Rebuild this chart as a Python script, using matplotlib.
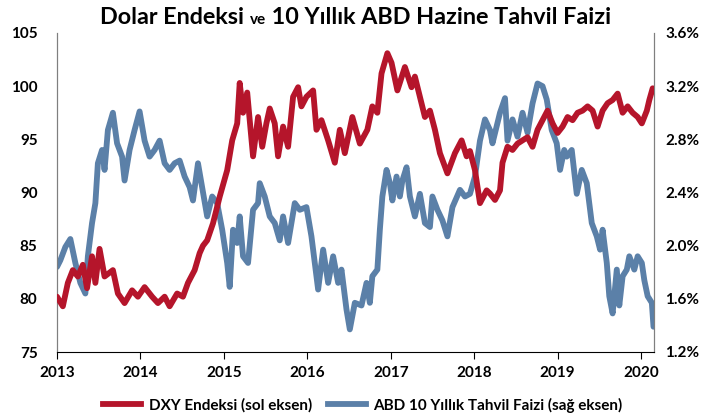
import numpy as np
import matplotlib as mpl
mpl.use('Agg')
import matplotlib.pyplot as plt
from matplotlib.lines import Line2D

mpl.rc('font', family=['Lato', 'DejaVu Sans'], weight='bold')

# DXY index (left axis), decimal year / index level
dxy_t = [2013.00, 2013.07, 2013.13, 2013.19, 2013.25, 2013.31, 2013.36, 2013.42,
         2013.46, 2013.51, 2013.57, 2013.67, 2013.73, 2013.81, 2013.90, 2013.97,
         2014.05, 2014.14, 2014.21, 2014.29, 2014.35, 2014.44, 2014.51, 2014.57,
         2014.65, 2014.71, 2014.75, 2014.80, 2014.87, 2014.95, 2015.04, 2015.10,
         2015.16, 2015.19, 2015.23, 2015.28, 2015.31, 2015.35, 2015.41, 2015.46,
         2015.51, 2015.55, 2015.61, 2015.65, 2015.71, 2015.77, 2015.83, 2015.89,
         2015.93, 2015.99, 2016.07, 2016.11, 2016.17, 2016.25, 2016.33, 2016.39,
         2016.45, 2016.54, 2016.63, 2016.72, 2016.78, 2016.84, 2016.89, 2016.96,
         2017.01, 2017.08, 2017.17, 2017.25, 2017.29, 2017.35, 2017.41, 2017.47,
         2017.53, 2017.59, 2017.68, 2017.77, 2017.85, 2017.91, 2017.95, 2018.01,
         2018.07, 2018.15, 2018.19, 2018.25, 2018.31, 2018.34, 2018.40, 2018.46,
         2018.52, 2018.58, 2018.64, 2018.70, 2018.76, 2018.82, 2018.88, 2018.94,
         2019.00, 2019.06, 2019.12, 2019.18, 2019.24, 2019.30, 2019.36, 2019.42,
         2019.48, 2019.54, 2019.60, 2019.66, 2019.72, 2019.78, 2019.84, 2019.90,
         2019.96, 2020.01, 2020.07, 2020.10, 2020.14]
dxy = [80.2, 79.3, 81.5, 82.7, 82.1, 83.2, 81.0, 84.0,
       81.5, 84.7, 82.1, 82.7, 80.5, 79.6, 80.8, 80.2,
       81.1, 80.2, 79.6, 80.2, 79.3, 80.5, 80.2, 81.5,
       82.7, 84.3, 85.0, 85.5, 87.1, 89.6, 92.1, 94.9,
       96.5, 100.3, 97.5, 99.4, 96.8, 93.4, 97.1, 94.3,
       96.5, 97.9, 96.5, 93.4, 96.2, 94.3, 99.0, 99.9,
       98.1, 99.0, 99.6, 95.9, 96.8, 94.9, 92.8, 95.9,
       93.7, 97.1, 94.6, 95.9, 98.1, 97.5, 101.2, 103.1,
       102.2, 99.6, 101.8, 99.9, 100.9, 99.0, 97.1, 97.7,
       95.9, 93.7, 91.8, 93.7, 94.9, 93.4, 93.9, 92.1,
       89.0, 90.2, 89.9, 89.3, 90.2, 92.8, 94.3, 94.0,
       94.6, 94.9, 95.2, 94.3, 95.9, 96.8, 97.7, 96.5,
       95.6, 96.2, 97.1, 96.8, 97.5, 97.7, 98.1, 97.7,
       96.2, 97.7, 98.4, 98.7, 99.3, 97.5, 98.1, 97.5,
       97.1, 96.5, 97.7, 98.7, 99.8]

# US 10Y Treasury yield (right axis), decimal year / percent
ust_t = [2013.00, 2013.04, 2013.10, 2013.16, 2013.22, 2013.28, 2013.34, 2013.37,
         2013.42, 2013.46, 2013.49, 2013.54, 2013.57, 2013.61, 2013.67, 2013.72,
         2013.78, 2013.81, 2013.87, 2013.93, 2013.99, 2014.05, 2014.11, 2014.17,
         2014.23, 2014.29, 2014.35, 2014.41, 2014.47, 2014.53, 2014.59, 2014.63,
         2014.69, 2014.75, 2014.80, 2014.86, 2014.92, 2014.98, 2015.04, 2015.07,
         2015.11, 2015.16, 2015.19, 2015.23, 2015.29, 2015.35, 2015.41, 2015.43,
         2015.49, 2015.55, 2015.61, 2015.67, 2015.71, 2015.77, 2015.85, 2015.91,
         2015.99, 2016.05, 2016.09, 2016.13, 2016.19, 2016.25, 2016.31, 2016.37,
         2016.41, 2016.47, 2016.51, 2016.57, 2016.65, 2016.71, 2016.75, 2016.78,
         2016.84, 2016.87, 2016.90, 2016.95, 2016.99, 2017.02, 2017.07, 2017.11,
         2017.14, 2017.19, 2017.23, 2017.29, 2017.35, 2017.41, 2017.47, 2017.50,
         2017.56, 2017.62, 2017.68, 2017.74, 2017.83, 2017.89, 2017.95, 2018.01,
         2018.07, 2018.13, 2018.19, 2018.22, 2018.31, 2018.37, 2018.40, 2018.46,
         2018.52, 2018.58, 2018.64, 2018.70, 2018.76, 2018.82, 2018.87, 2018.93,
         2018.99, 2019.03, 2019.08, 2019.11, 2019.17, 2019.23, 2019.29, 2019.35,
         2019.41, 2019.47, 2019.51, 2019.54, 2019.59, 2019.62, 2019.66, 2019.71,
         2019.74, 2019.78, 2019.83, 2019.86, 2019.92, 2019.96, 2020.01, 2020.04,
         2020.08, 2020.13, 2020.15]
ust = [1.84, 1.89, 1.99, 2.05, 1.87, 1.72, 1.64, 1.92,
       2.17, 2.32, 2.62, 2.72, 2.57, 2.87, 3.00, 2.77,
       2.67, 2.49, 2.72, 2.87, 3.01, 2.79, 2.67, 2.72,
       2.79, 2.62, 2.57, 2.62, 2.64, 2.52, 2.44, 2.34,
       2.62, 2.40, 2.22, 2.37, 2.32, 2.12, 1.87, 1.69,
       2.12, 2.02, 2.22, 1.92, 1.87, 2.27, 2.32, 2.47,
       2.37, 2.22, 2.17, 2.04, 2.22, 2.02, 2.32, 2.27,
       2.29, 2.07, 1.87, 1.67, 1.97, 1.72, 1.92, 1.72,
       1.82, 1.52, 1.37, 1.57, 1.55, 1.72, 1.57, 1.77,
       1.82, 2.12, 2.37, 2.57, 2.47, 2.34, 2.52, 2.37,
       2.49, 2.59, 2.37, 2.22, 2.39, 2.17, 2.14, 2.37,
       2.27, 2.19, 2.07, 2.29, 2.42, 2.37, 2.39, 2.52,
       2.79, 2.95, 2.87, 2.77, 3.00, 3.11, 2.79, 2.95,
       2.82, 3.00, 2.85, 3.07, 3.22, 3.20, 3.10, 2.87,
       2.77, 2.57, 2.72, 2.67, 2.72, 2.39, 2.57, 2.47,
       2.17, 2.07, 1.97, 2.12, 1.87, 1.62, 1.49, 1.82,
       1.55, 1.77, 1.82, 1.92, 1.82, 1.92, 1.87, 1.74,
       1.62, 1.57, 1.39]

years = [2013, 2014, 2015, 2016, 2017, 2018, 2019, 2020]
left_ticks = [75, 80, 85, 90, 95, 100, 105]
right_ticks = [1.2, 1.6, 2.0, 2.4, 2.8, 3.2, 3.6]

red = '#B5152B'
blue = '#5B80A8'
lw = 4.2

fig = plt.figure(figsize=(7.24, 4.18), dpi=100)
ax0 = fig.add_axes([57/724, 1-352/418, 597/724, 319/418])
ax1 = ax0.twinx()

ax1.plot(ust_t, ust, lw=lw, color=blue, solid_capstyle='round',
         solid_joinstyle='round', zorder=2)
ax0.plot(dxy_t, dxy, lw=lw, color=red, solid_capstyle='round',
         solid_joinstyle='round', zorder=3)
ax0.set_zorder(ax1.get_zorder() + 1)
ax0.patch.set_visible(False)

ax0.set_xlim(2013, 2020.156)
ax0.set_ylim(75, 105)
ax1.set_ylim(1.2, 3.6)
ax0.set_xticks(years)
ax0.set_xticklabels([str(y) for y in years])
ax0.set_yticks(left_ticks)
ax1.set_yticks(right_ticks)
ax1.set_yticklabels(['%.1f%%' % v for v in right_ticks])

for ax in (ax0, ax1):
    ax.spines['top'].set_visible(False)
    ax.spines['left'].set_color('#7f7f7f')
    ax.spines['right'].set_color('#7f7f7f')
    ax.spines['bottom'].set_color('black')
    ax.tick_params(axis='y', length=0, labelsize=11, pad=8)
ax1.spines['bottom'].set_visible(False)
ax0.tick_params(axis='x', direction='out', length=5, labelsize=11, pad=5)
ax0.tick_params(axis='y', pad=14)

# title in three pieces, "ve" smaller
fig.canvas.draw()
r = fig.canvas.get_renderer()
parts = [('Dolar Endeksi ', 16.8), ('ve', 11), (' 10 Yıllık ABD Hazine Tahvil Faizi', 16.8)]
texts = [fig.text(0, 0.943, s, fontsize=fs, fontweight='bold', va='baseline')
         for s, fs in parts]
widths = [t.get_window_extent(r).width for t in texts]
x = 355.5 - sum(widths) / 2
for t, w in zip(texts, widths):
    t.set_x(x / 724)
    x += w

handles = [
    Line2D([], [], color=red, lw=lw),
    Line2D([], [], color=blue, lw=lw),
]
fig.legend(handles, ['DXY Endeksi (sol eksen)', 'ABD 10 Yıllık Tahvil Faizi (sağ eksen)'],
           ncol=2, loc='center', bbox_to_anchor=(363/724, 1-405/418), frameon=False,
           fontsize=11, handlelength=2.5, columnspacing=1.0, handletextpad=0.5)

fig.savefig('out.png', dpi=100)
